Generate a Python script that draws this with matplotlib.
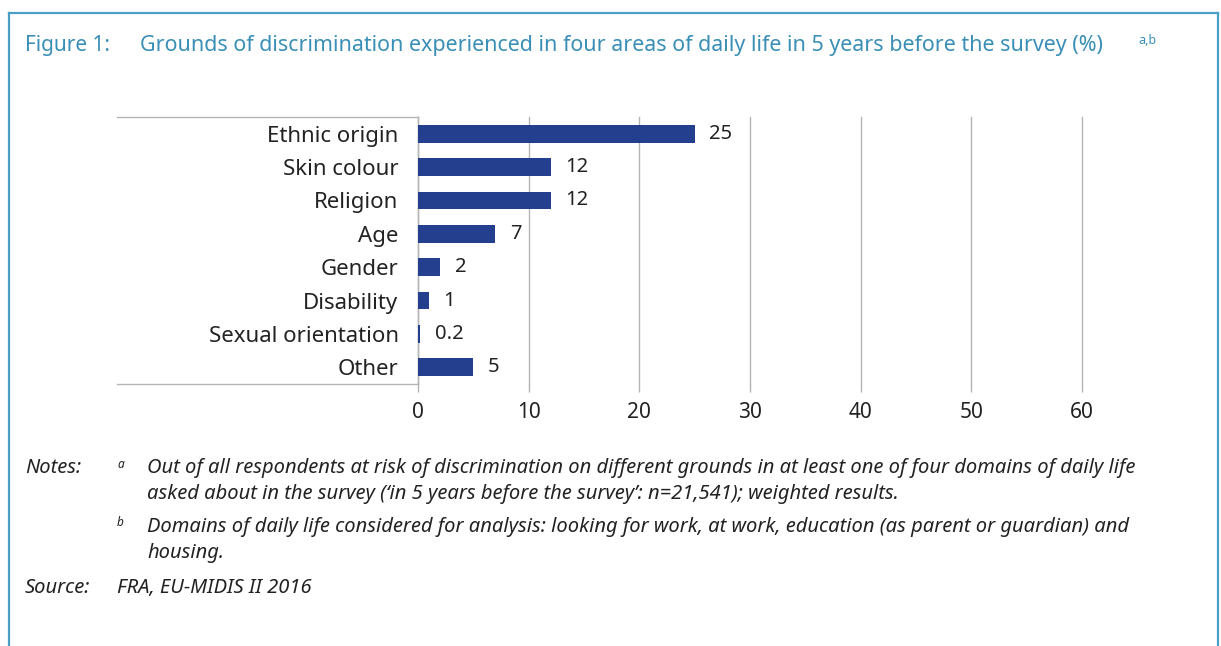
"""Figure 1: grounds of discrimination (EU-MIDIS II)."""

import matplotlib

matplotlib.use("Agg")
import matplotlib.pyplot as plt
from matplotlib.lines import Line2D

plt.rcParams["font.family"] = ["Noto Sans", "DejaVu Sans"]

# --- data ---
grounds = [
    "Ethnic origin",
    "Skin colour",
    "Religion",
    "Age",
    "Gender",
    "Disability",
    "Sexual orientation",
    "Other",
]
share = [25, 12, 12, 7, 2, 1, 0.2, 5]
x_ticks = [0, 10, 20, 30, 40, 50, 60]

BAR = "#243f8e"
GRID = "#b4b4b4"
FRAME = "#4b9fc6"
TITLE = "#3a8fb7"
TXT = "#222222"

W, H = 1221, 646
fig = plt.figure(figsize=(W / 100, H / 100), dpi=100)
ax = fig.add_axes([418 / W, 1 - 384 / H, 664 / W, 267 / H])

ypos = list(range(len(grounds)))
bars = ax.barh(ypos, share, height=0.53, color=BAR, zorder=3)
for bar, val in zip(bars, share):
    ax.text(
        bar.get_width() + 1.3,
        bar.get_y() + bar.get_height() / 2,
        f"{val:g}",
        va="center",
        ha="left",
        fontsize=14.5,
        color=TXT,
    )

ax.set_ylim(len(grounds) - 0.5, -0.5)
ax.set_xlim(0, 60)
ax.set_yticks(ypos)
ax.set_yticklabels(grounds, fontsize=16, color=TXT)
ax.set_xticks(x_ticks)
ax.set_xticklabels([str(t) for t in x_ticks], fontsize=15, color=TXT)
ax.tick_params(axis="y", length=0, pad=14)
ax.tick_params(axis="x", length=6, width=1, color=GRID, pad=7)
ax.grid(axis="x", color=GRID, linewidth=1, zorder=0)
for gl in ax.get_xgridlines():
    gl.set_clip_on(False)
for s in ["top", "right", "bottom"]:
    ax.spines[s].set_visible(False)
ax.spines["left"].set_color(GRID)
ax.spines["left"].set_linewidth(1)

# label box lines (Excel style)
for yy in (0, 1):
    ax.plot([-0.453, 0], [yy, yy], transform=ax.transAxes, color=GRID,
            linewidth=1, clip_on=False)

# outer frame
fig.add_artist(Line2D([9 / W, 9 / W], [0, 1 - 13 / H], color=FRAME, linewidth=1.6))
fig.add_artist(Line2D([9 / W, 1218 / W], [1 - 13 / H, 1 - 13 / H], color=FRAME, linewidth=1.6))
fig.add_artist(Line2D([1218 / W, 1218 / W], [0, 1 - 13 / H], color=FRAME, linewidth=1.6))

# title
fig.text(25 / W, 1 - 45 / H, "Figure 1:", fontsize=15, color=TITLE, va="center")
fig.text(
    140 / W,
    1 - 45 / H,
    "Grounds of discrimination experienced in four areas of daily life in 5 years before the survey (%)",
    fontsize=15.45,
    color=TITLE,
    va="center",
)
fig.text(1138 / W, 1 - 40 / H, "a,b", fontsize=9, color=TITLE, va="center")

# notes
nfs = 14.5
fig.text(25 / W, 1 - 468 / H, "Notes:", fontsize=nfs, style="italic", color=TXT, va="center")
fig.text(117 / W, 1 - 464 / H, "a", fontsize=8.5, style="italic", color=TXT, va="center")
fig.text(
    147 / W,
    1 - 468 / H,
    "Out of all respondents at risk of discrimination on different grounds in at least one of four domains of daily life",
    fontsize=nfs, style="italic", color=TXT, va="center",
)
fig.text(
    147 / W,
    1 - 494 / H,
    "asked about in the survey (\u2018in 5 years before the survey\u2019: n=21,541); weighted results.",
    fontsize=nfs, style="italic", color=TXT, va="center",
)
fig.text(117 / W, 1 - 523 / H, "b", fontsize=8.5, style="italic", color=TXT, va="center")
fig.text(
    147 / W,
    1 - 527 / H,
    "Domains of daily life considered for analysis: looking for work, at work, education (as parent or guardian) and",
    fontsize=nfs, style="italic", color=TXT, va="center",
)
fig.text(147 / W, 1 - 553 / H, "housing.", fontsize=nfs, style="italic", color=TXT, va="center")
fig.text(25 / W, 1 - 588 / H, "Source:", fontsize=nfs, style="italic", color=TXT, va="center")
fig.text(117 / W, 1 - 588 / H, "FRA, EU-MIDIS II 2016", fontsize=nfs, style="italic", color=TXT, va="center")

fig.savefig("out.png", dpi=100, facecolor="white")
